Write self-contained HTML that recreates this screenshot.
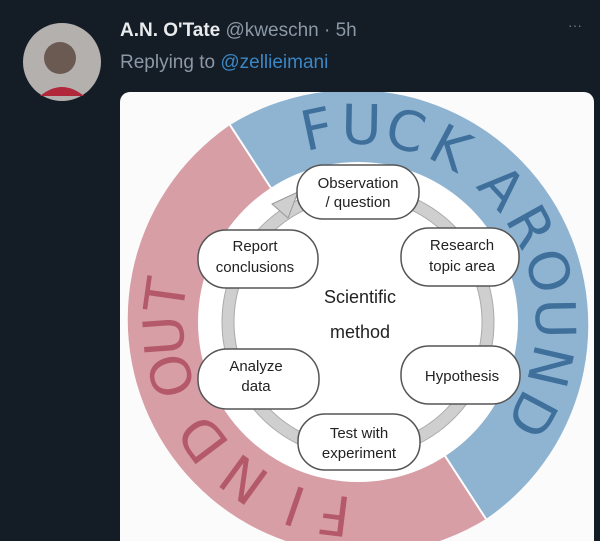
<!DOCTYPE html>
<html><head><style>
html,body{margin:0;padding:0;background:#141c26;width:600px;height:541px;overflow:hidden;font-family:"Liberation Sans",sans-serif}
.a text{font-family:"DejaVu Sans",sans-serif;font-size:55px;text-anchor:middle;dominant-baseline:central}
</style></head><body>
<svg width="600" height="541" viewBox="0 0 600 541" xmlns="http://www.w3.org/2000/svg" style="position:absolute;left:0;top:0">
<rect width="600" height="541" fill="#141c26"/>
<circle cx="62" cy="62" r="39" fill="#b3b0ae"/>
<circle cx="60" cy="58" r="16" fill="#6b5a52"/>
<path d="M40 96 Q62 78 84 96 Z" fill="#b0283a"/>
<text x="120" y="36" font-size="19" font-weight="bold" fill="#e8eaec">A.N. O'Tate <tspan font-weight="normal" fill="#8b98a5">@kweschn · 5h</tspan></text>
<text x="120" y="68" font-size="19" fill="#8b98a5">Replying to <tspan fill="#3b86c5">@zellieimani</tspan></text>
<text x="568" y="30" font-size="14" fill="#6e7a86">···</text>
<defs><clipPath id="card"><rect x="120" y="92" width="474" height="460" rx="10"/></clipPath></defs>
<g clip-path="url(#card)">
<rect x="120" y="92" width="474" height="460" fill="#fbfbfb"/>
<path d="M230 125 A235 235 0 0 0 486 519 Z" fill="#d79ea6"/>
<path d="M230 125 A235 235 0 0 1 486 519 Z" fill="#8fb4d2"/>
<line x1="230" y1="125" x2="486" y2="519" stroke="#fff" stroke-width="2"/>
<circle cx="358" cy="322" r="160" fill="#fff"/>
<g class="a" fill="#3f709b">
<text transform="translate(317,129.3) rotate(-12)">F</text>
<text transform="translate(361.4,125) rotate(1)">U</text>
<text transform="translate(405.7,130.9) rotate(14)">C</text>
<text transform="translate(450.4,148.1) rotate(28)">K</text>
<text transform="translate(502,187.6) rotate(47)">A</text>
<text transform="translate(530.3,226.5) rotate(61)">R</text>
<text transform="translate(548.3,271) rotate(75)">O</text>
<text transform="translate(555,318.6) rotate(89)">U</text>
<text transform="translate(549.9,366.3) rotate(103)">N</text>
<text transform="translate(532,414.4) rotate(118)">D</text>
</g>
<g class="a" fill="#b4596a">
<text transform="translate(334.4,514.6) rotate(187)">F</text>
<text transform="translate(294.8,505.5) rotate(199)">I</text>
<text transform="translate(244,478.9) rotate(216)">N</text>
<text transform="translate(203,438.8) rotate(233)">D</text>
<text transform="translate(171.6,375.5) rotate(254)">O</text>
<text transform="translate(164.4,335.6) rotate(266)">U</text>
<text transform="translate(165.9,295) rotate(278)">T</text>
</g>
<circle cx="358" cy="322" r="130" fill="none" stroke="#cfcfcf" stroke-width="12"/>
<circle cx="358" cy="322" r="124" fill="none" stroke="#aaa" stroke-width="1"/>
<circle cx="358" cy="322" r="136" fill="none" stroke="#aaa" stroke-width="1"/>
<path d="M272 204 L298 192 L288 218 Z" fill="#cfcfcf" stroke="#999" stroke-width="1"/>
<g fill="#fff" stroke="#555" stroke-width="1.5">
<rect x="297" y="165" width="122" height="54" rx="26"/>
<rect x="401" y="228" width="118" height="58" rx="28"/>
<rect x="401" y="346" width="119" height="58" rx="28"/>
<rect x="298" y="414" width="122" height="56" rx="27"/>
<rect x="198" y="349" width="121" height="60" rx="29"/>
<rect x="198" y="230" width="120" height="58" rx="28"/>
</g>
<g font-size="15" fill="#222" text-anchor="middle">
<text x="358" y="188">Observation</text><text x="358" y="207">/ question</text>
<text x="462" y="250">Research</text><text x="462" y="271">topic area</text>
<text x="462" y="381">Hypothesis</text>
<text x="359" y="438">Test with</text><text x="359" y="458">experiment</text>
<text x="256" y="371">Analyze</text><text x="256" y="391">data</text>
<text x="255" y="251">Report</text><text x="255" y="272">conclusions</text>
<text x="360" y="303" font-size="18">Scientific</text><text x="360" y="338" font-size="18">method</text>
</g>
</g>
</svg>
</body></html>
